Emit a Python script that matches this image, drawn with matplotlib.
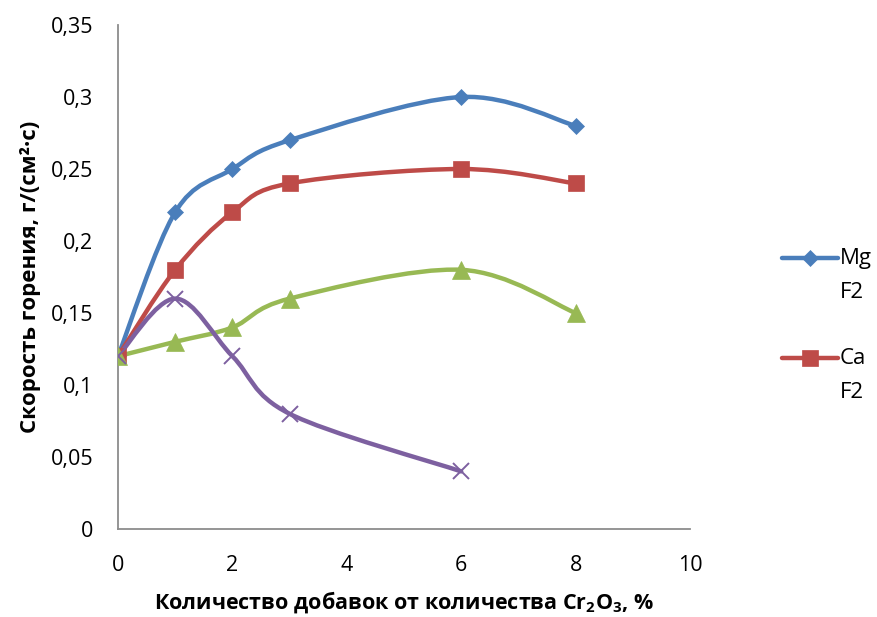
import numpy as np
import matplotlib
matplotlib.use("Agg")
import matplotlib.pyplot as plt
from matplotlib.path import Path
from matplotlib.patches import PathPatch
from matplotlib.lines import Line2D
from matplotlib.ticker import FuncFormatter

plt.rcParams['font.family'] = ['Open Sans', 'DejaVu Sans']
plt.rcParams['mathtext.fontset'] = 'custom'
plt.rcParams['mathtext.rm'] = 'Open Sans:bold'
plt.rcParams['mathtext.it'] = 'Open Sans:bold'
plt.rcParams['mathtext.bf'] = 'Open Sans:bold'

x_mg = [0, 1, 2, 3, 6, 8]
y_mg = [0.12, 0.22, 0.25, 0.27, 0.30, 0.28]
x_ca = [0, 1, 2, 3, 6, 8]
y_ca = [0.12, 0.18, 0.22, 0.24, 0.25, 0.24]
x_g = [0, 1, 2, 3, 6, 8]
y_g = [0.12, 0.13, 0.14, 0.16, 0.18, 0.15]
x_p = [0, 1, 2, 3, 6]
y_p = [0.12, 0.16, 0.12, 0.08, 0.04]

legend_names = ["Mg", "Ca"]
legend_sub = ["F2", "F2"]
xticks = [0, 2, 4, 6, 8, 10]
yticks = [0, 0.05, 0.1, 0.15, 0.2, 0.25, 0.3, 0.35]

C_BLUE = "#4A7EBB"
C_RED = "#BE4B48"
C_GREEN = "#98B954"
C_PURPLE = "#7D60A0"


def smooth_path(xs, ys):
    pts = np.column_stack([xs, ys]).astype(float)
    n = len(pts)
    verts = [pts[0]]
    codes = [Path.MOVETO]
    for i in range(n - 1):
        p0 = pts[i - 1] if i > 0 else pts[i]
        p1 = pts[i]
        p2 = pts[i + 1]
        p3 = pts[i + 2] if i + 2 < n else pts[i + 1]
        c1 = p1 + (p2 - p0) / 6.0
        c2 = p2 - (p3 - p1) / 6.0
        verts += [c1, c2, p2]
        codes += [Path.CURVE4] * 3
    return Path(verts, codes)


fig = plt.figure(figsize=(8.77, 6.17), dpi=100)
ax = fig.add_axes([118 / 877, 1 - 529 / 617, (690 - 118) / 877, (529 - 25) / 617])

LW = 3.2
series = [
    (x_mg, y_mg, C_BLUE, "D", 8.5),
    (x_ca, y_ca, C_RED, "s", 11.5),
    (x_g, y_g, C_GREEN, "^", 12.5),
    (x_p, y_p, C_PURPLE, "x", 11),
]
for xs, ys, c, m, ms in series:
    patch = PathPatch(smooth_path(xs, ys), facecolor="none", edgecolor=c,
                      lw=LW, capstyle="round", joinstyle="round", zorder=2)
    ax.add_patch(patch)
    mew = 1.4 if m == "x" else 0.5
    ax.plot(xs, ys, linestyle="none", marker=m, ms=ms, color=c,
            markeredgecolor=c, mew=mew, zorder=3)

ax.set_xlim(0, 10)
ax.set_ylim(0, 0.35)
ax.set_xticks(xticks)
ax.set_yticks(yticks)
fmt = FuncFormatter(lambda v, p: ("%g" % round(v, 2)).replace(".", ","))
ax.xaxis.set_major_formatter(fmt)
ax.yaxis.set_major_formatter(fmt)
ax.tick_params(length=0, labelsize=15.5)
ax.tick_params(axis="y", pad=18)
ax.tick_params(axis="x", pad=19)
for s in ["top", "right"]:
    ax.spines[s].set_visible(False)
for s in ["left", "bottom"]:
    ax.spines[s].set_color("#8C8C8C")
    ax.spines[s].set_linewidth(1.3)

ax.set_xlabel("Количество добавок от количества Cr$_2$O$_3$, %", fontsize=15.5,
              fontweight="bold", labelpad=9)
ax.set_ylabel("Скорость горения, г/(см²·с)", fontsize=16, fontweight="bold",
              labelpad=7)

# legend (drawn in figure pixel coordinates)
leg_items = [(C_BLUE, "D", 8.5, 258), (C_RED, "s", 11.5, 358)]
for (c, m, ms, ypix), name, sub in zip(leg_items, legend_names, legend_sub):
    yf = 1 - ypix / 617
    ln = Line2D([782 / 877, 838 / 877], [yf, yf], transform=fig.transFigure,
                color=c, lw=LW, solid_capstyle="round")
    mk = Line2D([810 / 877], [yf], transform=fig.transFigure, color=c,
                marker=m, ms=ms, markeredgecolor=c, mew=0.5, linestyle="none")
    fig.add_artist(ln)
    fig.add_artist(mk)
    fig.text(840 / 877, yf, name, fontsize=16, va="center", ha="left")
    fig.text(840 / 877, 1 - (ypix + 34) / 617, sub, fontsize=16,
             va="center", ha="left")

fig.savefig("out.png", dpi=100)
